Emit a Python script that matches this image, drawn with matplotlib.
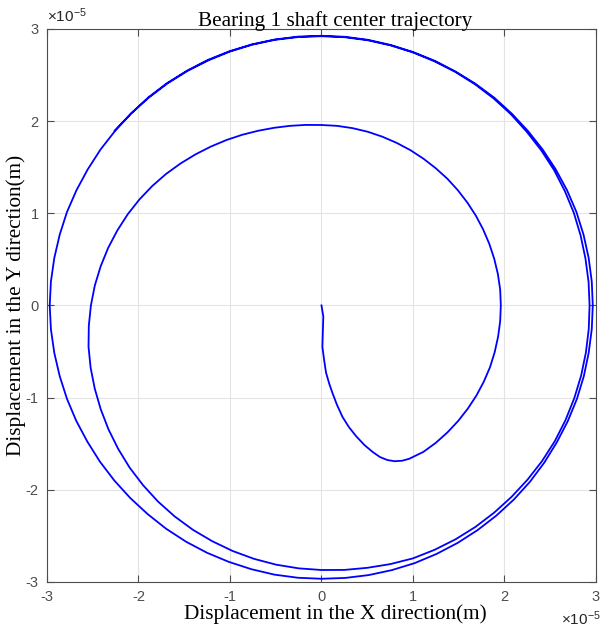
import numpy as np
import matplotlib
matplotlib.use("Agg")
import matplotlib.pyplot as plt

# Trayectoria (unidades de 1e-5 m)
# espiral interior: centro -> abajo -> derecha -> arriba -> izquierda -> abajo
x_inner = [0.0, 0.02, 0.015, 0.01, 0.03, 0.05, 0.085, 0.12, 0.17, 0.23, 0.30, 0.38, 0.47,
           0.56, 0.64, 0.72, 0.80, 0.88, 0.96, 1.113, 1.250,
           1.377, 1.494, 1.599, 1.693, 1.774, 1.842, 1.893, 1.930, 1.953, 1.96, 1.953,
           1.928, 1.888, 1.834, 1.767, 1.687, 1.594, 1.490, 1.375, 1.249, 1.114, 0.972,
           0.822, 0.666, 0.505, 0.339, 0.170, 0.0, -0.171, -0.343, -0.516, -0.690, -0.863,
           -1.0365, -1.207, -1.376, -1.540, -1.699, -1.850, -1.990, -2.118, -2.232, -2.331,
           -2.413, -2.477, -2.52, -2.543, -2.546, -2.523, -2.478, -2.413, -2.328, -2.222,
           -2.097, -1.950, -1.786, -1.603, -1.405, -1.193, -0.970, -0.737, -0.496, -0.2495]
y_inner = [0.0, -0.12, -0.28, -0.45, -0.60, -0.73, -0.85, -0.95, -1.08, -1.21, -1.32,
           -1.42, -1.515, -1.59, -1.645, -1.677, -1.69, -1.685, -1.663,
           -1.589, -1.490, -1.377, -1.253, -1.120, -0.978, -0.827, -0.670, -0.507, -0.340,
           -0.171, 0.0, 0.171, 0.340, 0.506, 0.668, 0.824, 0.974, 1.116, 1.250, 1.375,
           1.488, 1.592, 1.684, 1.763, 1.830, 1.884, 1.923, 1.948, 1.957, 1.958, 1.948,
           1.927, 1.895, 1.852, 1.795, 1.724, 1.639, 1.540, 1.426, 1.295, 1.149, 0.988,
           0.812, 0.625, 0.425, 0.217, 0.0, -0.2225, -0.449, -0.676, -0.902, -1.125,
           -1.344, -1.556, -1.759, -1.950, -2.128, -2.290, -2.434, -2.558, -2.664, -2.749,
           -2.812, -2.852]

# primera vuelta exterior
x_loop1 = [0.0, 0.251, 0.502, 0.752, 0.999, 1.236, 1.465, 1.682, 1.887, 2.077, 2.252,
           2.411, 2.550, 2.667, 2.763, 2.838, 2.890, 2.921, 2.93, 2.919, 2.885, 2.832,
           2.758, 2.660, 2.542, 2.402, 2.244, 2.072, 1.883, 1.679, 1.4625, 1.235, 0.999,
           0.756, 0.507, 0.2545, 0.0, -0.2547, -0.508, -0.758, -1.002, -1.239, -1.4675,
           -1.685, -1.890, -2.081, -2.256, -2.415, -2.555, -2.678, -2.782, -2.861, -2.920,
           -2.957, -2.97, -2.957, -2.920, -2.861, -2.782, -2.681, -2.559, -2.421, -2.264,
           -2.0895, -1.8995, -1.697, -1.48, -1.251, -1.012, -0.767, -0.515, -0.258]
y_loop1 = [-2.87, -2.869, -2.846, -2.806, -2.744, -2.651, -2.537, -2.403, -2.248, -2.077,
           -1.890, -1.688, -1.4725, -1.244, -1.006, -0.760, -0.510, -0.256, 0.0, 0.255,
           0.509, 0.759, 1.004, 1.240, 1.468, 1.682, 1.883, 2.072, 2.244, 2.398, 2.533,
           2.648, 2.744, 2.820, 2.876, 2.909, 2.92, 2.911, 2.881, 2.828, 2.753, 2.657,
           2.542, 2.407, 2.252, 2.081, 1.893, 1.691, 1.475, 1.249, 1.012, 0.767, 0.515,
           0.259, 0.0, -0.259, -0.515, -0.767, -1.012, -1.250, -1.4775, -1.695, -1.8995,
           -2.0895, -2.264, -2.423, -2.563, -2.683, -2.782, -2.861, -2.920, -2.954]

# segunda vuelta exterior (se superpone arriba)
x_loop2 = [0.0, 0.2586, 0.516, 0.769, 1.0175, 1.257, 1.4875, 1.706, 1.912, 2.104, 2.279,
           2.435, 2.572, 2.692, 2.791, 2.867, 2.920, 2.954, 2.965, 2.954, 2.920, 2.864,
           2.786, 2.683, 2.559, 2.4165, 2.256, 2.080, 1.890, 1.683, 1.465, 1.237, 1.0004,
           0.757, 0.508, 0.255, 0.0, -0.255, -0.509, -0.759, -1.004, -1.242, -1.47,
           -1.688, -1.893, -2.082, -2.26]
y_loop2 = [-2.965, -2.956, -2.925, -2.871, -2.7956, -2.696, -2.5764, -2.437, -2.279,
           -2.104, -1.912, -1.705, -1.485, -1.255, -1.016, -0.768, -0.515, -0.258, 0.0,
           0.258, 0.515, 0.767, 1.014, 1.251, 1.4775, 1.692, 1.893, 2.080, 2.252, 2.404,
           2.537, 2.654, 2.749, 2.825, 2.881, 2.914, 2.925, 2.916, 2.885, 2.832, 2.758,
           2.663, 2.546, 2.411, 2.256, 2.082, 1.896]

ticks = [-3, -2, -1, 0, 1, 2, 3]
tick_labels = ['-3', '-2', '-1', '0', '1', '2', '3']

x = np.array(x_inner + x_loop1 + x_loop2)
y = np.array(y_inner + y_loop1 + y_loop2)

plt.rcParams['mathtext.fontset'] = 'custom'
plt.rcParams['mathtext.rm'] = 'Liberation Sans'
plt.rcParams['mathtext.it'] = 'Liberation Sans'

fig = plt.figure(figsize=(6, 6.3), dpi=100)
ax = fig.add_axes([0.0783, 0.0762, 0.915, 0.878])

ax.plot(x, y, color='#0000ff', lw=1.3)

ax.set_xlim(-3, 3)
ax.set_ylim(-3, 3)
ax.set_xticks(ticks)
ax.set_yticks(ticks)
ax.set_xticklabels(tick_labels, family='Liberation Sans', fontsize=10.5, color='#262626')
ax.set_yticklabels(tick_labels, family='Liberation Sans', fontsize=10.5, color='#262626')

ax.grid(True, color='#e3e3e3', lw=0.8)
ax.set_axisbelow(True)
ax.tick_params(direction='in', length=5, width=0.8, top=True, right=True,
               colors='#4d4d4d', pad=6)
for s in ax.spines.values():
    s.set_color('#4d4d4d')
    s.set_linewidth(0.8)

# factor de escala como en MATLAB
fig.text(47 / 600, 1 - 22 / 630, r'$\times10^{-5}$', fontsize=11, color='#262626',
         ha='left', va='baseline')
fig.text(561 / 600, 1 - 625 / 630, r'$\times10^{-5}$', fontsize=11, color='#262626',
         ha='left', va='baseline')

serif = 'Liberation Serif'
ax.set_title('Bearing 1 shaft center trajectory', family=serif, fontsize=15.3, pad=2,
             x=0.525)
ax.set_xlabel('Displacement in the X direction(m)', family=serif, fontsize=15.3,
              labelpad=0)
ax.xaxis.label.set_x(0.525)
ax.set_ylabel('Displacement in the Y direction(m)', family=serif, fontsize=15.3)
ax.yaxis.set_label_coords(-0.038, 0.5)

fig.savefig('out.png', dpi=100, facecolor='white')
